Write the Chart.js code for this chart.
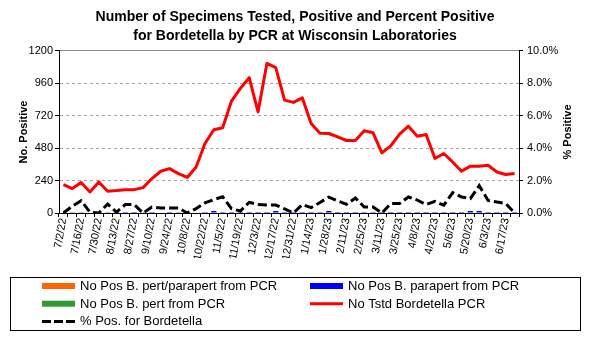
<!DOCTYPE html>
<html>
<head>
<meta charset="utf-8">
<title>Bordetella PCR - Wisconsin</title>
<script src="https://cdn.jsdelivr.net/npm/chart.js@4.4.1/dist/chart.umd.min.js"></script>
<style>
  html, body { margin: 0; padding: 0; background: #fff; }
  #wrap { width: 590px; height: 343px; }
</style>
</head>
<body>
<div id="wrap"><canvas id="chart" width="590" height="343"></canvas></div>
<script>
const weeks = ['7/2/22', '7/9/22', '7/16/22', '7/23/22', '7/30/22', '8/6/22', '8/13/22', '8/20/22', '8/27/22', '9/3/22',
    '9/10/22', '9/17/22', '9/24/22', '10/1/22', '10/8/22', '10/15/22', '10/22/22', '10/29/22', '11/5/22', '11/12/22',
    '11/19/22', '11/26/22', '12/3/22', '12/10/22', '12/17/22', '12/24/22', '12/31/22', '1/7/23', '1/14/23', '1/21/23',
    '1/28/23', '2/4/23', '2/11/23', '2/18/23', '2/25/23', '3/4/23', '3/11/23', '3/18/23', '3/25/23', '4/1/23',
    '4/8/23', '4/15/23', '4/22/23', '4/29/23', '5/6/23', '5/13/23', '5/20/23', '5/27/23', '6/3/23', '6/10/23',
    '6/17/23', '6/24/23'];

const posPertParapert = [0, 0, 0, 0, 0, 0, 0, 0, 0, 0, 0, 0, 0, 0, 0, 0, 0, 0, 0, 0, 0, 0, 0, 0, 0, 0,
    0, 0, 0, 0, 0, 0, 0, 0, 0, 0, 0, 0, 0, 0, 0, 0, 0, 0, 0, 0, 0, 0, 0, 0, 0, 0];
const posParapert = [0, 0, 0, 0, 0, 0, 7, 7, 7, 0, 7, 0, 7, 0, 0, 0, 7, 15, 7, 7, 7, 7, 7, 7, 15, 7,
    7, 7, 7, 7, 15, 7, 7, 7, 7, 7, 7, 7, 7, 7, 7, 7, 7, 7, 7, 7, 15, 15, 7, 7, 7, 7];
const posPert = [0, 7, 7, 0, 0, 7, 0, 0, 0, 7, 0, 0, 0, 7, 0, 0, 0, 0, 0, 0, 0, 0, 0, 0, 0, 0,
    0, 0, 0, 0, 0, 0, 0, 0, 0, 0, 0, 0, 0, 0, 0, 0, 0, 0, 0, 0, 0, 0, 0, 0, 0, 0];
const tested = [211, 181, 226, 156, 230, 161, 166, 173, 173, 188, 255, 309, 329, 292, 263, 341, 515, 617, 631, 829,
    923, 1002, 749, 1108, 1076, 836, 819, 853, 663, 591, 589, 564, 537, 537, 610, 594, 445, 497, 584, 643,
    569, 582, 404, 441, 378, 309, 347, 347, 354, 304, 285, 292];
const pctPositive = [0, 0.42, 0.76, 0.05, 0, 0.55, 0.06, 0.52, 0.52, 0, 0.37, 0.31, 0.31, 0.31, 0, 0.27, 0.62, 0.83, 1.0, 0.27,
    0.12, 0.66, 0.53, 0.49, 0.49, 0.25, 0, 0.52, 0.33, 0.65, 0.98, 0.75, 0.53, 0.93, 0.37, 0.37, 0, 0.58, 0.58, 0.99,
    0.8, 0.52, 0.72, 0.48, 1.26, 0.99, 0.89, 1.69, 0.78, 0.68, 0.58, 0];

Chart.defaults.font.family = 'Arial, "Liberation Sans", sans-serif';
Chart.defaults.color = '#000';

// legend box under the plot, two columns like the Excel original
const boxLegend = {
    id: 'boxLegend',
    afterDraw(chart) {
        const { ctx } = chart;
        ctx.save();
        ctx.strokeStyle = '#000';
        ctx.lineWidth = 1;
        ctx.strokeRect(10.5, 277.5, 570, 53);
        ctx.font = '13px Arial, "Liberation Sans", sans-serif';
        ctx.textBaseline = 'middle';
        chart.data.datasets.forEach((ds, i) => {
            const x = i % 2 ? 310 : 42;
            const y = 286 + Math.floor(i / 2) * 17.7;
            if (ds.type === 'line') {
                ctx.strokeStyle = ds.borderColor;
                ctx.lineWidth = 3;
                ctx.setLineDash(ds.borderDash ? [9, 3] : []);
                ctx.beginPath();
                ctx.moveTo(x, y);
                ctx.lineTo(x + 33, y);
                ctx.stroke();
                ctx.setLineDash([]);
            } else {
                ctx.fillStyle = ds.backgroundColor;
                ctx.fillRect(x, y - 3, 33, 6);
            }
            ctx.fillStyle = '#000';
            ctx.fillText(ds.label, x + 38, y + 0.5);
        });
        ctx.restore();
    },
};

// right axis title reads bottom-to-top in the original
const rightTitle = {
    id: 'rightTitle',
    afterDraw(chart) {
        const { ctx } = chart;
        const s = chart.scales.y1;
        ctx.save();
        ctx.translate(568, (s.top + s.bottom) / 2);
        ctx.rotate(-Math.PI / 2);
        ctx.font = 'bold 11px Arial, "Liberation Sans", sans-serif';
        ctx.textAlign = 'center';
        ctx.textBaseline = 'middle';
        ctx.fillStyle = '#000';
        ctx.fillText('% Positive', 0, 0);
        ctx.restore();
    },
};

new Chart(document.getElementById('chart'), {
    type: 'bar',
    data: {
        labels: weeks,
        datasets: [
            { label: 'No Pos B. pert/parapert from PCR', data: posPertParapert, backgroundColor: '#ff6600', order: 1,
                categoryPercentage: 0.6, barPercentage: 1 },
            { label: 'No Pos B. parapert from PCR', data: posParapert, backgroundColor: '#0000ff', order: 1,
                categoryPercentage: 0.6, barPercentage: 1 },
            { label: 'No Pos B. pert from PCR', data: posPert, backgroundColor: '#339933', order: 1,
                categoryPercentage: 0.6, barPercentage: 1 },
            { type: 'line', label: 'No Tstd Bordetella PCR', data: tested, borderColor: '#ff0000', borderWidth: 3,
                pointRadius: 0, tension: 0, borderJoinStyle: 'round', yAxisID: 'y', stack: 'tested', order: 0 },
            { type: 'line', label: '% Pos. for Bordetella', data: pctPositive, borderColor: '#000', borderWidth: 3,
                borderDash: [9, 4], pointRadius: 0, tension: 0, yAxisID: 'y1', order: 0 },
        ],
    },
    options: {
        responsive: false,
        animation: false,
        devicePixelRatio: 1,
        layout: { padding: { bottom: 85 } },
        plugins: {
            legend: { display: false },
            tooltip: { enabled: false },
            title: {
                display: true,
                text: ['Number of Specimens Tested, Positive and Percent Positive', 'for Bordetella by PCR at Wisconsin Laboratories'],
                font: { size: 14, weight: 'bold', lineHeight: 1.36 },
                color: '#000',
                padding: { top: 7.5, bottom: 5.4 },
            },
        },
        scales: {
            x: {
                stacked: true,
                grid: { drawOnChartArea: false, offset: true, tickLength: 4, tickColor: '#000', color: '#000' },
                border: { color: '#000' },
                ticks: {
                    autoSkip: false, minRotation: 80, maxRotation: 80, padding: 0,
                    font: { size: 11 },
                    callback: (v, i) => (i % 2 === 0 ? weeks[i] : ''),
                },
                afterFit: s => { s.height = 45; },
            },
            xTop: {
                type: 'category',
                position: 'top',
                grid: { display: false, drawTicks: false },
                ticks: { display: false },
                border: { color: '#8c8c8c' },
            },
            y: {
                stacked: true,
                min: 0,
                max: 1200,
                ticks: { stepSize: 240, padding: 2, font: { size: 11 }, callback: v => String(v) },
                grid: {
                    color: c => (c.tick && c.tick.value > 0 && c.tick.value < 1200 ? '#a6a6a6' : 'rgba(0,0,0,0)'),
                    tickColor: '#000',
                    tickLength: 4,
                },
                border: { color: '#000', dash: [3, 3] },
                title: { display: true, text: 'No. Positive', font: { size: 11, weight: 'bold' }, padding: { top: 17, bottom: 0 } },
                afterFit: s => { s.width = 59; },
            },
            y1: {
                position: 'right',
                min: 0,
                max: 10,
                ticks: { stepSize: 2, padding: 4, font: { size: 11 }, callback: v => v.toFixed(1) + '%' },
                grid: { drawOnChartArea: false, tickColor: '#000', tickLength: 4 },
                border: { color: '#000' },
                afterFit: s => { s.width = 71; },
            },
        },
    },
    plugins: [boxLegend, rightTitle],
});
</script>
</body>
</html>
